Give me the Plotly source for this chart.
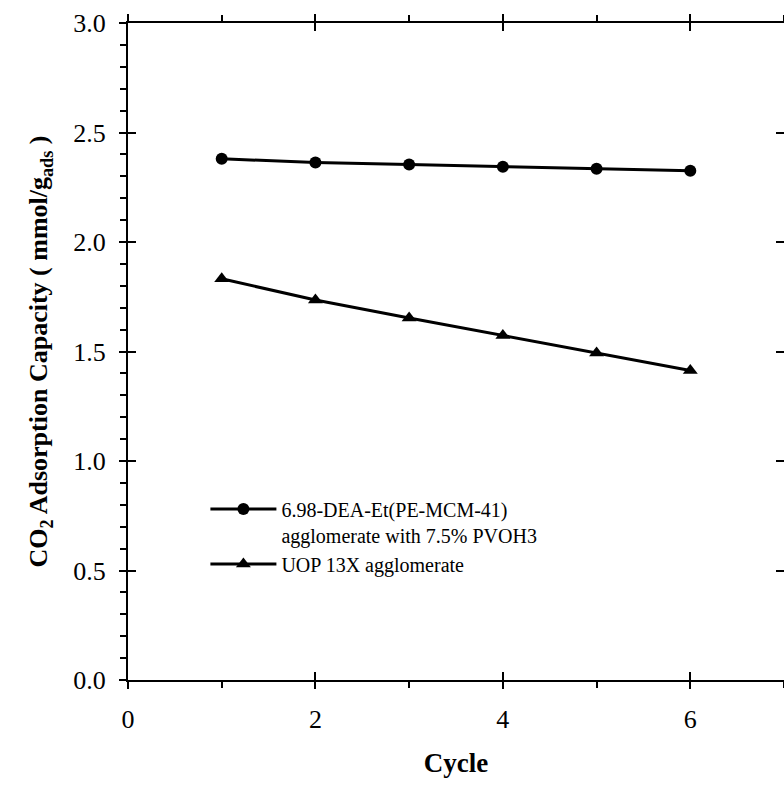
import plotly.graph_objects as go

cycles = [1, 2, 3, 4, 5, 6]
dea_capacity = [2.38, 2.363, 2.354, 2.344, 2.335, 2.325]
uop_capacity = [1.832, 1.735, 1.653, 1.573, 1.493, 1.413]

name_dea = "6.98-DEA-Et(PE-MCM-41)<br>agglomerate with 7.5% PVOH3"
name_uop = "UOP 13X agglomerate"

FONT = "'Times New Roman', 'Liberation Serif', 'DejaVu Serif', serif"

fig = go.Figure()
fig.add_trace(go.Scatter(x=cycles, y=dea_capacity, mode="lines+markers", name=name_dea,
                         line=dict(color="black", width=3),
                         marker=dict(symbol="circle", size=12, color="black")))
fig.add_trace(go.Scatter(x=cycles, y=uop_capacity, mode="lines+markers", name=name_uop,
                         line=dict(color="black", width=3),
                         marker=dict(symbol="triangle-up", size=13, color="black")))
# invisible trace to activate inside-tick overlay axes
fig.add_trace(go.Scatter(x=cycles, y=dea_capacity, xaxis="x2", yaxis="y2", mode="markers",
                         marker=dict(opacity=0), showlegend=False, hoverinfo="skip"))

common = dict(showgrid=False, zeroline=False, showline=True, linecolor="black", linewidth=2,
              tickcolor="black", tickwidth=2)

fig.update_layout(
    width=784, height=787,
    margin=dict(l=128, r=0, t=23, b=107),
    paper_bgcolor="white", plot_bgcolor="white",
    font=dict(family=FONT, color="black"),
    showlegend=True,
    legend=dict(x=0.118, y=0.29, xanchor="left", yanchor="top",
                font=dict(family=FONT, size=20, color="black"),
                bgcolor="rgba(0,0,0,0)", valign="top", tracegroupgap=0,
                itemwidth=66),
    xaxis=dict(range=[0, 7], dtick=2, tick0=0, ticks="outside", ticklen=7,
               mirror="ticks",
               minor=dict(dtick=1, ticks="outside", ticklen=6, tickcolor="black", tickwidth=2),
               tickfont=dict(family=FONT, size=26), ticklabelstandoff=8,
               title=dict(text="<b>Cycle</b>", font=dict(family=FONT, size=27), standoff=20),
               **common),
    yaxis=dict(range=[0, 3.0], dtick=0.5, tick0=0, ticks="outside", ticklen=7,
               mirror=False, tickformat=".1f",
               minor=dict(dtick=0.1, ticks="outside", ticklen=6, tickcolor="black", tickwidth=2),
               tickfont=dict(family=FONT, size=26), ticklabelstandoff=8,
               title=dict(text="<b>CO<sub>2</sub> Adsorption Capacity ( mmol/g<sub>ads</sub> )</b>",
                          font=dict(family=FONT, size=26), standoff=18),
               **common),
    xaxis2=dict(range=[0, 7], dtick=2, tick0=0, overlaying="x", anchor="y2", side="bottom",
                ticks="inside", ticklen=8, tickcolor="black", tickwidth=2, mirror="ticks",
                showticklabels=False, showgrid=False, zeroline=False, showline=False),
    yaxis2=dict(range=[0, 3.0], dtick=0.5, tick0=0, overlaying="y", anchor="x2", side="left",
                ticks="inside", ticklen=8, tickcolor="black", tickwidth=2, mirror="ticks",
                showticklabels=False, showgrid=False, zeroline=False, showline=False),
)

fig.write_html("out.html")
